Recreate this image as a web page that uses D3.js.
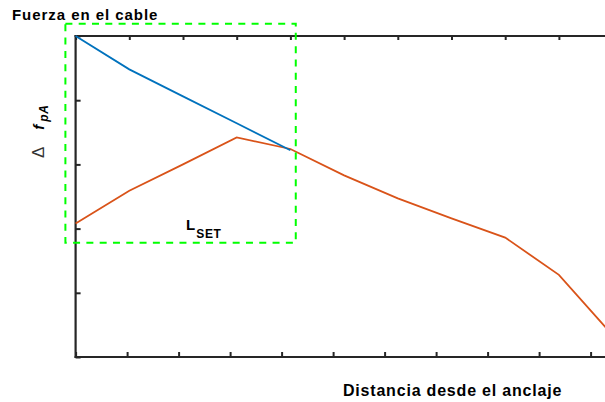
<!DOCTYPE html>
<html>
<head>
<meta charset="utf-8">
<script src="https://cdn.jsdelivr.net/npm/d3@7"></script>
<style>
  body { margin: 0; background: #fff; }
  text { font-family: "Liberation Sans", Arial, sans-serif; fill: #000; }
</style>
</head>
<body>
<div id="chart"></div>
<script>
// distance along cable, in tick steps from the anchor
var distBlue = [0, 1, 2, 3, 4];
var forceBlue = [5, 4.48, 4.06, 3.64, 3.22];

var distOrange = [0, 1, 2, 3, 4, 5, 6, 7, 8, 9, 10];
var forceOrange = [2.08, 2.59, 3.0, 3.42, 3.24, 2.83, 2.47, 2.16, 1.86, 1.28, 0.34];

var xTicks = [0, 1, 2, 3, 4, 5, 6, 7, 8, 9, 10];
var yTicks = [0, 1, 2, 3, 4, 5];

// L_SET box, in data units
var lsetBox = { x0: -0.19, x1: 4.1, y0: 1.78, y1: 5.19 };

var width = 605,
    height = 402;

var x = d3.scaleLinear().domain([0, 10]).range([75.6, 612.6]);
// bottom ticks are spaced a little tighter than the top ones in the original
var xBottom = d3.scaleLinear().domain([0, 10]).range([75.6, 590.6]);
var y = d3.scaleLinear().domain([0, 5]).range([357, 36]);

var svg = d3.select("#chart").append("svg")
    .attr("width", width)
    .attr("height", height);

var axisColor = "#262626";

// top axis, ticks pointing down
var gTop = svg.append("g")
    .attr("transform", "translate(0," + y(5) + ")")
    .call(d3.axisBottom(x).tickValues(xTicks).tickSize(4).tickSizeOuter(0).tickFormat(""));

// bottom axis, ticks pointing up
var gBot = svg.append("g")
    .attr("transform", "translate(0," + y(0) + ")")
    .call(d3.axisTop(xBottom).tickValues(xTicks).tickSize(5).tickSizeOuter(0).tickFormat(""));

// left axis, ticks pointing right
var gLeft = svg.append("g")
    .attr("transform", "translate(" + x(0) + ",0)")
    .call(d3.axisRight(y).tickValues(yTicks).tickSize(5).tickSizeOuter(0).tickFormat(""));

[gTop, gBot, gLeft].forEach(function(g) {
  g.select(".domain").remove();
  g.selectAll(".tick line").attr("stroke", axisColor).attr("stroke-width", 2);
});

svg.append("line")
    .attr("x1", x(0) - 1).attr("x2", width)
    .attr("y1", y(5)).attr("y2", y(5))
    .attr("stroke", axisColor).attr("stroke-width", 2.2);
svg.append("line")
    .attr("x1", x(0) - 1).attr("x2", width)
    .attr("y1", y(0)).attr("y2", y(0))
    .attr("stroke", axisColor).attr("stroke-width", 2.2);
svg.append("line")
    .attr("x1", x(0)).attr("x2", x(0))
    .attr("y1", y(5) - 1).attr("y2", y(0) + 1)
    .attr("stroke", axisColor).attr("stroke-width", 2.2);

var line = d3.line()
    .x(function(d) { return x(d[0]); })
    .y(function(d) { return y(d[1]); });

svg.append("path")
    .datum(d3.zip(distOrange, forceOrange))
    .attr("d", line)
    .attr("fill", "none")
    .attr("stroke", "#D95319")
    .attr("stroke-width", 1.8);

svg.append("path")
    .datum(d3.zip(distBlue, forceBlue))
    .attr("d", line)
    .attr("fill", "none")
    .attr("stroke", "#0072BD")
    .attr("stroke-width", 1.8);

// dashed green box marking L_SET
svg.append("rect")
    .attr("x", x(lsetBox.x0))
    .attr("y", y(lsetBox.y1))
    .attr("width", x(lsetBox.x1) - x(lsetBox.x0))
    .attr("height", y(lsetBox.y0) - y(lsetBox.y1))
    .attr("fill", "none")
    .attr("stroke", "#00ff00")
    .attr("stroke-width", 2)
    .attr("stroke-dasharray", "7,6.3");

// texts
svg.append("text")
    .attr("x", 12).attr("y", 20)
    .style("font-size", "15px").style("font-weight", "bold")
    .style("letter-spacing", "0.95px")
    .text("Fuerza en el cable");

svg.append("text")
    .attr("x", 343).attr("y", 396)
    .style("font-size", "16px").style("font-weight", "bold")
    .style("letter-spacing", "0.8px")
    .text("Distancia desde el anclaje");

var lset = svg.append("text")
    .attr("x", 186).attr("y", 229.5)
    .style("font-size", "15px").style("font-weight", "bold");
lset.append("tspan").text("L");
lset.append("tspan").attr("dx", 1).attr("dy", 8.5).style("font-size", "12px")
    .style("letter-spacing", "0.7px").text("SET");

var ylab = svg.append("text")
    .attr("transform", "translate(43.5,158) rotate(-90)")
    .style("font-size", "15px");
ylab.append("tspan").style("font-size", "17px").style("fill", "#333").text("\u0394");
ylab.append("tspan").attr("dx", 17).style("font-weight", "bold").style("font-style", "italic").text("f");
ylab.append("tspan").attr("dx", 3).attr("dy", 4.5).style("font-size", "12px")
    .style("letter-spacing", "0.6px")
    .style("font-weight", "bold").style("font-style", "italic").text("pA");
</script>
</body>
</html>
